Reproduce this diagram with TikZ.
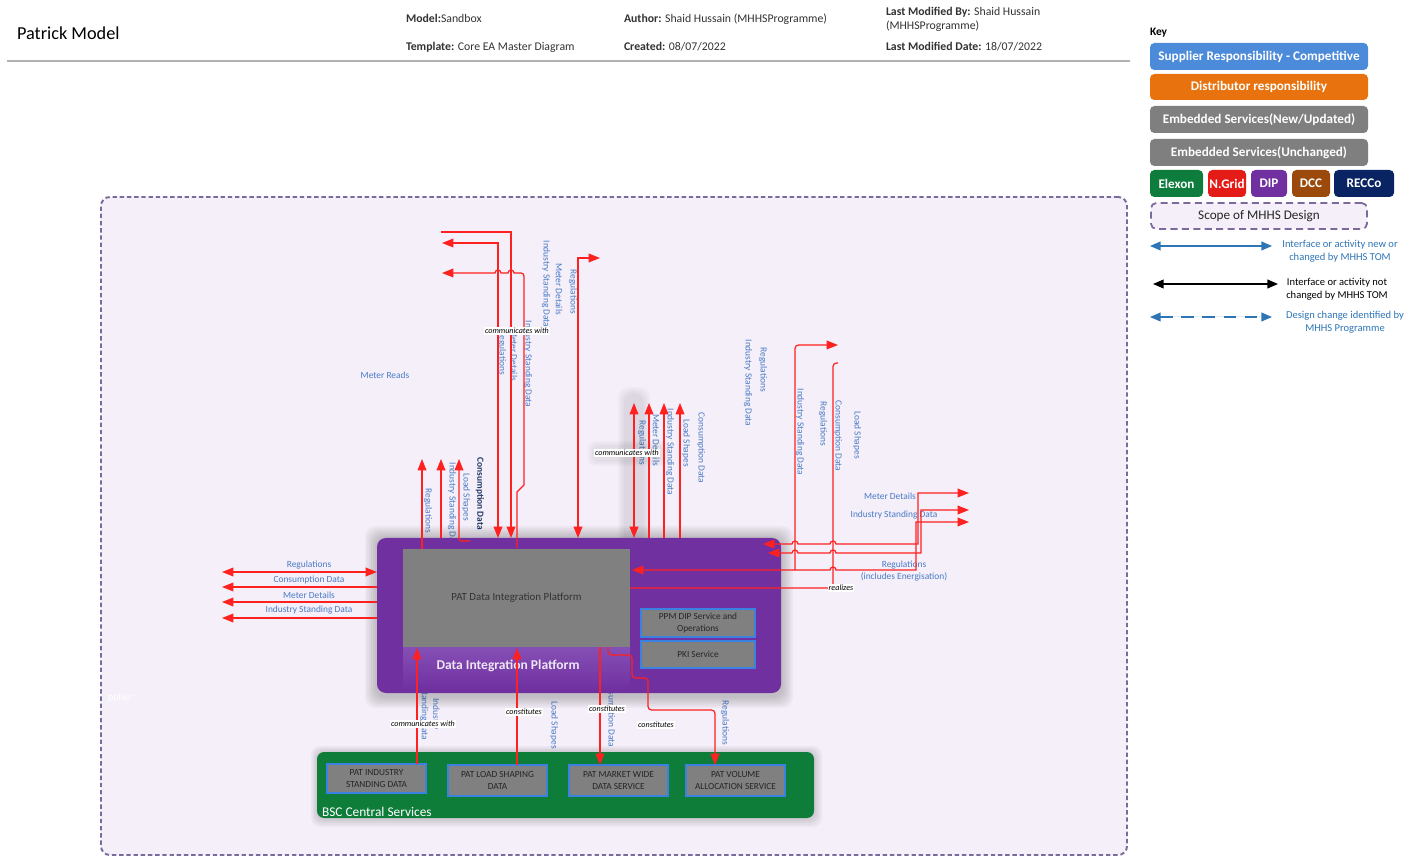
\documentclass[tikz,border=0pt]{standalone}
\usepackage{fontspec}
\setmainfont{Carlito}
\usetikzlibrary{arrows.meta,fit,calc}
\definecolor{hdrtext}{HTML}{333333}
\definecolor{lblue}{HTML}{4A7BC8}
\definecolor{ared}{HTML}{FF2020}
\definecolor{scopebg}{HTML}{F4EFF8}
\definecolor{scopeedge}{HTML}{7B6A9E}
\definecolor{dippurple}{HTML}{7030A0}
\definecolor{dipstripA}{HTML}{8550B5}
\definecolor{boxgray}{HTML}{808080}
\definecolor{svcblue}{HTML}{3B82E0}
\definecolor{bscgreen}{HTML}{0F7D3A}
\definecolor{keyblue}{HTML}{4C8BDA}
\definecolor{keyorange}{HTML}{E8730E}
\definecolor{keygray}{HTML}{7F7F7F}
\definecolor{elexon}{HTML}{0E7C3C}
\definecolor{ngrid}{HTML}{E41B17}
\definecolor{dcc}{HTML}{9B4A0B}
\definecolor{recco}{HTML}{0A2463}
\definecolor{kblue}{HTML}{2E75B6}
\definecolor{navytxt}{HTML}{1F3864}
\begin{document}
\begin{tikzpicture}[x=0.02cm,y=-0.02cm,
  >={Triangle[length=6.5pt,width=5pt]},
  every node/.style={inner sep=0pt, outer sep=0pt},
  pxsize/.style 2 args={minimum width=#1*0.02cm, minimum height=#2*0.02cm},
  hdr/.style={font=\fontsize{6.7}{8}\selectfont, text=hdrtext, anchor=west},
  keybox/.style={rounded corners=2.5pt, inner sep=0pt, text=white, font=\fontsize{7.5}{9}\selectfont\bfseries},
  keytxt/.style={font=\fontsize{6}{7.3}\selectfont, align=center},
  lbl/.style={font=\fontsize{5.35}{6.4}\selectfont, text=lblue},
  vlbl/.style={lbl, rotate=-90, align=center},
  comm/.style={font=\fontsize{4.6}{5.2}\selectfont\itshape, fill=white, inner sep=0.6pt, text=black},
  rl/.style={draw=ared, line width=0.7pt},
  svc/.style={fill=boxgray, draw=svcblue, line width=1pt, inner sep=0pt, align=center, font=\fontsize{5.3}{6.4}\selectfont, text=black!85},
  keyln/.style={line width=0.7pt, {Triangle[length=6pt,width=5pt]}-{Triangle[length=6pt,width=5pt]}},
]
\useasboundingbox (0,0) rectangle (1419,857);
\fill[white] (0,0) rectangle (1419,857);

% ---------- header ----------
\node[hdr, font=\fontsize{10.4}{12}\selectfont, text=black] (title) at (17,33) {Patrick Model};
\node[hdr] (model) at (406,18) {\textbf{Model:}Sandbox};
\node[hdr] (templ) at (406,47) {\textbf{Template:} Core EA Master Diagram};
\node[hdr] (author) at (624,19) {\textbf{Author:} Shaid Hussain (MHHSProgramme)};
\node[hdr] (created) at (624,47) {\textbf{Created:} 08/07/2022};
\node[hdr] (lmb) at (886,12) {\textbf{Last Modified By:} Shaid Hussain};
\node[hdr] (lmb2) at (886,26) {(MHHSProgramme)};
\node[hdr] (lmd) at (886,47) {\textbf{Last Modified Date:} 18/07/2022};
\coordinate (hl1) at (7,61);
\coordinate (hl2) at (1130,61);
\draw[black!30, line width=0.8pt] (hl1) -- (hl2);

% ---------- key ----------
\node[anchor=west, font=\fontsize{6.5}{7.5}\selectfont\bfseries] (keyt) at (1150,33) {Key};
\node[keybox, fill=keyblue, pxsize={218}{27}] (k1) at (1259,56.5) {Supplier Responsibility - Competitive};
\node[keybox, fill=keyorange, pxsize={218}{26}] (k2) at (1259,87) {Distributor responsibility};
\node[keybox, fill=keygray, pxsize={218}{27}] (k3) at (1259,119.5) {Embedded Services(New/Updated)};
\node[keybox, fill=keygray, pxsize={218}{27}] (k4) at (1259,152.5) {Embedded Services(Unchanged)};
\node[keybox, fill=elexon, pxsize={53}{27}] (k5) at (1176.5,183.5) {Elexon};
\node[keybox, fill=ngrid, pxsize={38}{27}] (k6) at (1227,183.5) {N.Grid};
\node[keybox, fill=dippurple, pxsize={36}{27}] (k7) at (1269,183.5) {DIP};
\node[keybox, fill=dcc, pxsize={38}{27}] (k8) at (1311,183.5) {DCC};
\node[keybox, fill=recco, pxsize={60}{27}] (k9) at (1364,183.5) {RECCo};
\node[pxsize={216}{26}, fill=scopebg, draw=scopeedge, line width=1pt, dash pattern=on 4pt off 2.5pt, rounded corners=3pt, font=\fontsize{7.5}{9}\selectfont, text=black!85] (k10) at (1259,216) {Scope of MHHS Design};
\coordinate (ka1) at (1150,246); \coordinate (ka2) at (1272,246);
\coordinate (kb1) at (1153,284); \coordinate (kb2) at (1278,284);
\coordinate (kc1) at (1150,317); \coordinate (kc2) at (1272,317);
\draw[keyln, draw=kblue, fill=kblue] (ka1) -- (ka2);
\draw[keyln, draw=black, fill=black] (kb1) -- (kb2);
\draw[keyln, draw=kblue, fill=kblue, dash pattern=on 7pt off 5pt] (kc1) -- (kc2);
\node[keytxt, text=kblue] (kat) at (1340,251) {Interface or activity new or\\changed by MHHS TOM};
\node[keytxt, text=black] (kbt) at (1337,289) {Interface or activity not\\changed by MHHS TOM};
\node[keytxt, text=kblue] (kct) at (1345,322) {Design change identified by\\MHHS Programme};

% ---------- scope area ----------
\node[fit={(101,197)(1127,855)}, draw=scopeedge, fill=scopebg, line width=1.1pt, dash pattern=on 2.5pt off 1.6pt, rounded corners=5pt] (scope) {};
\node[anchor=west, text=white, font=\fontsize{5.8}{6.5}\selectfont] (pplier) at (108,698) {pplier};

% ---------- blue labels (behind boxes) ----------
\node[lbl] (lwl1) at (309,565) {Regulations};
\node[lbl] (lwl2) at (309,580) {Consumption Data};
\node[lbl] (lwl3) at (309,595) {Meter Details};
\node[lbl] (lwl4) at (309,610) {Industry Standing Data};
\node[lbl] (mr) at (385,375) {Meter Reads};
\node[vlbl] (t1) at (428,511) {Regulations};
\node[vlbl] (t2) at (452,506) {Industry Standing Data};
\node[vlbl] (t3) at (466,497) {Load Shapes};
\node[vlbl, text=navytxt, font=\fontsize{5.35}{6.4}\selectfont\bfseries] (t4) at (480,494) {Consumption Data};
\node[vlbl] (t5) at (546,284) {Industry Standing Data};
\node[vlbl] (t6) at (559,289) {Meter Details};
\node[vlbl] (t7) at (573,292) {Regulations};
\node[vlbl] (t8) at (502,353) {Regulations};
\node[vlbl] (t9) at (514,355) {Meter Details};
\node[vlbl] (t10) at (528,364) {Industry Standing Data};
\node[vlbl] (m1l) at (642,443) {Regulations};
\node[vlbl] (m2l) at (656,440) {Meter Details};
\node[vlbl] (m3l) at (670,452) {Industry Standing Data};
\node[vlbl] (m4l) at (686,443) {Load Shapes};
\node[vlbl] (m5l) at (701,448) {Consumption Data};
\node[vlbl] (r1l) at (763,370) {Regulations};
\node[vlbl] (r2l) at (748,383) {Industry Standing Data};
\node[vlbl] (r3l) at (800,432) {Industry Standing Data};
\node[vlbl] (r4l) at (823,424) {Regulations};
\node[vlbl] (r5l) at (838,436) {Consumption Data};
\node[vlbl] (r6l) at (857,435) {Load Shapes};
\node[lbl] (r7l) at (890,496) {Meter Details};
\node[lbl] (r8l) at (894,515) {Industry Standing Data};
\node[lbl, align=center, font=\fontsize{5.35}{6.4}\selectfont] (r9l) at (904,571) {Regulations\\(includes Energisation)};
\node[vlbl] (b1l) at (430,714) {Industry\\Standing data};
\node[vlbl] (b2l) at (554,725) {Load Shapes};
\node[vlbl] (b3l) at (611,712) {Consumption Data};
\node[vlbl] (b4l) at (725,723) {Regulations};

% ---------- glow ----------
\foreach \i in {0,...,3}{\fill[black, opacity=0.025, rounded corners=6pt] ({624-2*\i},{393-2*\i}) rectangle ({644+2*\i},{546+2*\i});}
\foreach \i in {0,...,2}{\fill[black, opacity=0.025, rounded corners=4pt] ({592-2*\i},{445-2*\i}) rectangle ({664+2*\i},{462+2*\i});}

% ---------- DIP box ----------
\foreach \i in {1,...,6}{\fill[black, opacity=0.035, rounded corners=6pt] ({377-2*\i},{538-2*\i}) rectangle ({781+2*\i},{693+2*\i+3});}
\node[fit={(377,538)(781,693)}, fill=dippurple, rounded corners=5pt] (dip) {};
\node[fit={(403,646)(630,690)}, top color=dipstripA, bottom color=dippurple] (strip) {};
\node[pxsize={227}{98}, fill=boxgray, font=\fontsize{6.2}{7.4}\selectfont, text=black!80] (pat) at (516.5,598) {PAT Data Integration Platform};
\node[font=\fontsize{7.7}{9}\selectfont\bfseries, text=white!88!dippurple] (diplbl) at (508,666) {Data Integration Platform};
\node[svc, pxsize={114}{28}] (ppm) at (698,623) {PPM DIP Service and\\Operations};
\node[svc, pxsize={114}{27}] (pki) at (698,654.5) {PKI Service};

% ---------- BSC ----------
\foreach \i in {1,...,4}{\fill[black, opacity=0.035, rounded corners=5pt] ({317-1.5*\i},{752-1.5*\i}) rectangle ({814+2*\i},{818+2*\i+1});}
\node[fit={(317,752)(814,818)}, fill=bscgreen, rounded corners=4pt] (bsc) {};
\node[anchor=west, text=white, font=\fontsize{7.6}{9}\selectfont] (bsclbl) at (322,812) {BSC Central Services};
\node[svc, pxsize={99}{29}] (isd) at (376.5,778.5) {PAT INDUSTRY\\STANDING DATA};
\node[svc, pxsize={99}{31}] (lsd) at (497.5,780.5) {PAT LOAD SHAPING\\DATA};
\node[svc, pxsize={99}{31}] (mwd) at (618.5,780.5) {PAT MARKET WIDE\\DATA SERVICE};
\node[svc, pxsize={99}{31}] (vas) at (735.5,780.5) {PAT VOLUME\\ALLOCATION SERVICE};

% ---------- left connectors ----------
\coordinate (lw1) at (222,572);
\coordinate (lw2) at (222,587);
\coordinate (lw3) at (222,602);
\coordinate (lw4) at (222,618);
\draw[rl,<->] (lw1) -- (dip.west |- lw1);
\draw[rl,->] (dip.west |- lw2) -- (lw2);
\draw[rl,->] (dip.west |- lw3) -- (lw3);
\draw[rl,->] (dip.west |- lw4) -- (lw4);

% ---------- top-left up arrows ----------
\coordinate (tu1) at (422,459);
\coordinate (tu2) at (441,459);
\coordinate (tu3) at (459,459);
\coordinate (tu3b) at (470,541);
\draw[rl,->] (tu1 |- pat.north) -- (tu1);
\draw[rl,->] (tu2 |- dip.north) -- (tu2);
\draw[rl,->,rounded corners=1.5pt] (tu3b) -- (tu3 |- tu3b) -- (tu3);

% ---------- top-centre connectors ----------
\coordinate (ta) at (442,243);
\coordinate (ta2) at (498,538);
\coordinate (tb) at (441,232);
\coordinate (tb2) at (511,538);
\coordinate (tc) at (442,273);
\coordinate (tc2) at (517,548);
\coordinate (td1) at (578,538);
\coordinate (td2) at (600,258);
\draw[rl,<->] (ta) -| (ta2);
\draw[rl,->] (tb) -| (tb2);
\draw[rl,<-] (tc) -- (495,273) arc[start angle=180,end angle=0,radius=0.06cm] -- (508,273) arc[start angle=180,end angle=0,radius=0.06cm] -- (521,273) to[out=0,in=90] (524,276) -- (524,485) -- (517,492) -- (tc2);
\draw[rl,<->] (td1) |- (td2);

% ---------- middle connectors ----------
\coordinate (m1) at (634,403);
\coordinate (m2) at (649,403);
\coordinate (m3) at (664,403);
\coordinate (m4) at (680,403);
\draw[rl,<->] (m1) -- (m1 |- dip.north);
\draw[rl,->] (m2 |- dip.north) -- (m2);
\draw[rl,->] (m3 |- dip.north) -- (m3);
\draw[rl,->] (m4 |- dip.north) -- (m4);

% ---------- right connectors ----------
\coordinate (e1) at (838,345);
\coordinate (e2) at (795,570);
\coordinate (f1) at (838,363);
\coordinate (f2) at (630,588);
\coordinate (r1a) at (763,544);
\coordinate (r1b) at (969,493);
\coordinate (r2a) at (768,553);
\coordinate (r2b) at (969,510);
\coordinate (r3a) at (632,570);
\coordinate (r3b) at (969,522);
\draw[rl,->,rounded corners=2pt] (e2) -- (795,345) -- (e1);
\draw[rl,rounded corners=2pt] (f1) -- (833,363) -- (833,588) -- (f2);
\draw[rl,<->] (r1a) -- (792,544) arc[start angle=180,end angle=0,radius=0.06cm] -- (830,544) arc[start angle=180,end angle=0,radius=0.06cm] -- (918,544) -- (918,493) -- (r1b);
\draw[rl,<->] (r2a) -- (792,553) arc[start angle=180,end angle=0,radius=0.06cm] -- (830,553) arc[start angle=180,end angle=0,radius=0.06cm] -- (921,553) -- (921,510) -- (r2b);
\draw[rl,<->] (r3a) -- (830,570) arc[start angle=180,end angle=0,radius=0.06cm] -- (916,570) -- (916,522) -- (r3b);
\node[comm] (realz) at (841,588) {realizes};

% ---------- bottom connectors ----------
\coordinate (b1) at (417,648);
\coordinate (b2) at (517,648);
\coordinate (b3) at (600,647);
\coordinate (h1) at (608,647);
\coordinate (h2) at (715,765);
\draw[rl,->] (isd.north -| b1) -- (b1);
\draw[rl,->] (lsd.north -| b2) -- (b2);
\draw[rl,->] (b3) -- (b3 |- mwd.north);
\draw[rl,->,rounded corners=2pt] (h1) -- (608,655) -- (632,655) -- (632,678) -- (648,678) -- (648,710) -- (715,710) -- (h2);

% ---------- relation labels ----------
\node[comm] (c1) at (517,331) {communicates with};
\node[comm] (c2) at (627,453) {communicates with};
\node[comm] (c3) at (423,724) {communicates with};
\node[comm] (c4) at (524,712) {constitutes};
\node[comm] (c5) at (607,709) {constitutes};
\node[comm] (c6) at (656,725) {constitutes};
\end{tikzpicture}
\end{document}
